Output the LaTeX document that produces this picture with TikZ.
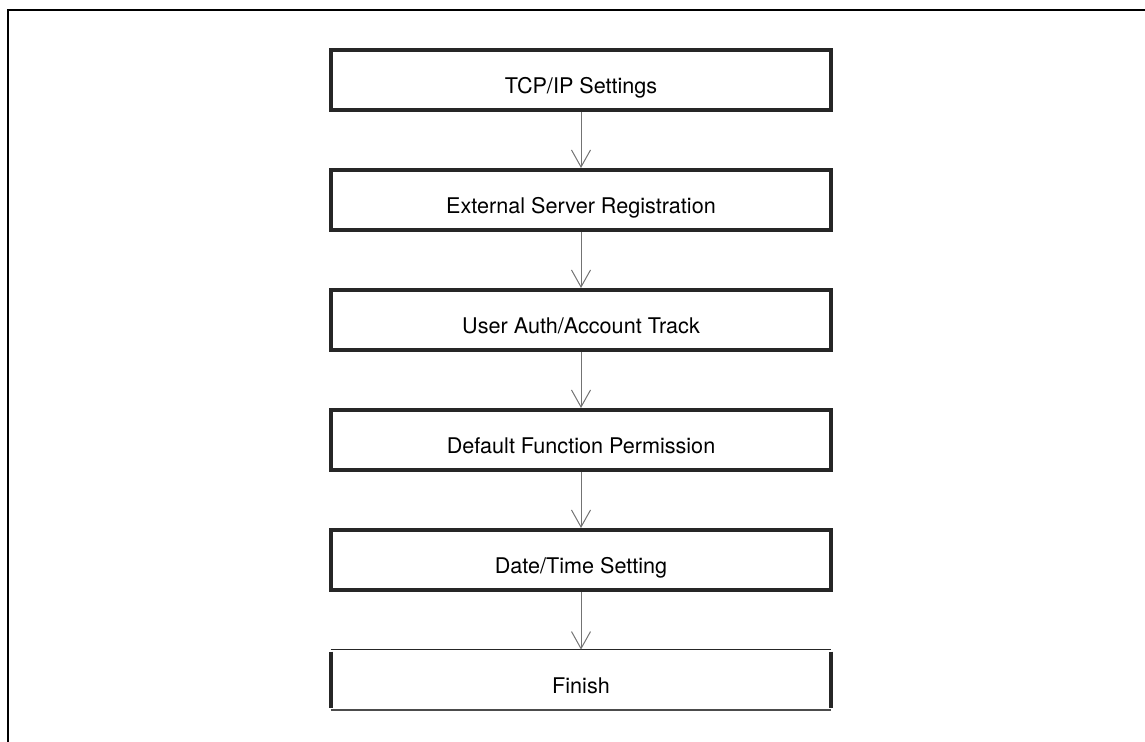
\documentclass[tikz,border=0pt]{standalone}
\usepackage{fontspec}
\setmainfont{TeX Gyre Heros}
\usetikzlibrary{arrows.meta}

\begin{document}
\begin{tikzpicture}[x=0.5pt,y=-0.5pt,
  steptext/.style={minimum width=250pt, minimum height=30pt, inner sep=0pt,
    text height=16pt, text depth=2.5pt,
    font=\fontsize{10.8}{13}\selectfont},
  stepbox/.style={steptext, draw=black!85, line width=2pt},
  flow/.style={draw=black!55, line width=0.5pt,
    -{Straight Barb[length=8.5pt,width=9.5pt,line width=0.5pt]}}]
\useasboundingbox (0,0) rectangle (1145,742);
\draw[line width=1pt] (8,742) -- (8,10) -- (1145,10);

\node[stepbox] (tcp) at (581,80) {TCP/IP Settings};
\node[stepbox] (ext) at (581,200) {External Server Registration};
\node[stepbox] (auth) at (581,320) {User Auth/Account Track};
\node[stepbox] (perm) at (581,440) {Default Function Permission};
\node[stepbox] (date) at (581,560) {Date/Time Setting};
\node[steptext] (fin) at (581,680) {Finish};

% open sides of the last box
\draw[line width=0.5pt, black!85] (fin.north west) -- (fin.north east);
\draw[line width=1pt, black!70] (fin.south west) -- (fin.south east);
\draw[line width=2pt, black!85] ([yshift=-1pt]fin.north west) -- ([yshift=1pt]fin.south west);
\draw[line width=2pt, black!85] ([yshift=-1pt]fin.north east) -- ([yshift=1pt]fin.south east);

\draw[flow] (tcp) -- (ext);
\draw[flow] (ext) -- (auth);
\draw[flow] (auth) -- (perm);
\draw[flow] (perm) -- (date);
\draw[flow] (date) -- (fin);
\end{tikzpicture}
\end{document}
